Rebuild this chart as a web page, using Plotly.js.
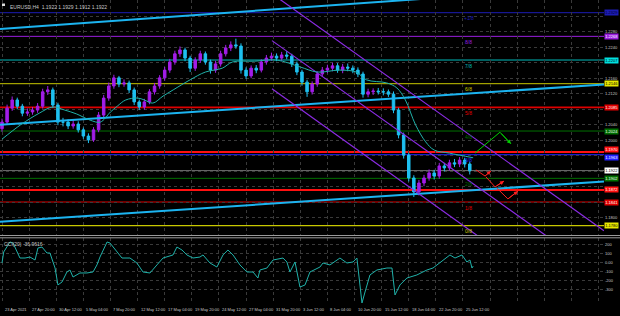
<!DOCTYPE html>
<html><head><meta charset="utf-8">
<script src="https://cdn.plot.ly/plotly-3.0.1.min.js"></script>
<style>html,body{margin:0;padding:0;background:#000;}#c{width:620px;height:316px;}</style>
</head><body><div id="c"></div>
<script>
// ---------- DATA ----------
const barIdx = [0,3,6,9,12,15,18,21,24,27,30,33,36,39,42,45,48,51,54,57,60,63,66,69,72,75,78,81,84,87,90,93,96,99,102,105,108,111,114,117,120,123,126,129,132,135,138,141,144,147,150,153,156,159,162,165,168,171,174,177,180,183,186,189,192,195,198,201,204,207,210,213,216,219,222,225,228,231,234,237,240,243,246,249,252,255,258,261,264,267,270,273,276];
const opens = [1.2030,1.2047,1.2083,1.2104,1.2088,1.2070,1.2073,1.2078,1.2088,1.2125,1.2130,1.2091,1.2047,1.2047,1.2037,1.2042,1.2027,1.2011,1.2001,1.2027,1.2065,1.2109,1.2140,1.2161,1.2145,1.2148,1.2130,1.2099,1.2086,1.2099,1.2125,1.2140,1.2161,1.2181,1.2202,1.2223,1.2233,1.2212,1.2186,1.2207,1.2223,1.2202,1.2181,1.2197,1.2223,1.2238,1.2246,1.2243,1.2181,1.2166,1.2186,1.2181,1.2202,1.2212,1.2217,1.2212,1.2220,1.2217,1.2197,1.2176,1.2150,1.2125,1.2145,1.2171,1.2181,1.2186,1.2192,1.2181,1.2189,1.2186,1.2181,1.2171,1.2119,1.2125,1.2127,1.2125,1.2125,1.2119,1.2078,1.2014,1.1962,1.1903,1.1867,1.1890,1.1903,1.1916,1.1908,1.1934,1.1929,1.1942,1.1939,1.1949,1.1939];
const highs = [1.2056,1.2092,1.2113,1.2110,1.2094,1.2082,1.2086,1.2096,1.2133,1.2140,1.2136,1.2097,1.2058,1.2054,1.2052,1.2049,1.2033,1.2018,1.2034,1.2073,1.2117,1.2149,1.2169,1.2166,1.2157,1.2154,1.2136,1.2105,1.2107,1.2132,1.2148,1.2168,1.2189,1.2210,1.2231,1.2242,1.2239,1.2218,1.2214,1.2231,1.2229,1.2208,1.2205,1.2231,1.2246,1.2255,1.2262,1.2250,1.2188,1.2193,1.2194,1.2209,1.2220,1.2226,1.2224,1.2228,1.2230,1.2223,1.2203,1.2182,1.2156,1.2152,1.2178,1.2189,1.2195,1.2200,1.2199,1.2197,1.2198,1.2193,1.2188,1.2177,1.2133,1.2134,1.2135,1.2134,1.2131,1.2126,1.2084,1.2020,1.1968,1.1910,1.1898,1.1911,1.1925,1.1924,1.1942,1.1942,1.1950,1.1952,1.1957,1.1955,1.1945];
const lows = [1.2022,1.2040,1.2076,1.2080,1.2062,1.2063,1.2066,1.2071,1.2082,1.2117,1.2084,1.2039,1.2036,1.2029,1.2030,1.2020,1.2004,1.1993,1.1996,1.2021,1.2058,1.2102,1.2133,1.2137,1.2138,1.2122,1.2091,1.2078,1.2079,1.2093,1.2118,1.2133,1.2154,1.2174,1.2195,1.2215,1.2204,1.2176,1.2179,1.2200,1.2195,1.2172,1.2174,1.2190,1.2216,1.2230,1.2236,1.2172,1.2158,1.2160,1.2173,1.2175,1.2195,1.2205,1.2204,1.2205,1.2209,1.2189,1.2168,1.2141,1.2112,1.2118,1.2138,1.2164,1.2173,1.2178,1.2174,1.2173,1.2178,1.2173,1.2163,1.2110,1.2111,1.2117,1.2118,1.2116,1.2112,1.2070,1.2005,1.1953,1.1894,1.1854,1.1858,1.1882,1.1896,1.1899,1.1901,1.1920,1.1922,1.1931,1.1931,1.1930,1.1912];
const closes = [1.2047,1.2083,1.2104,1.2088,1.2070,1.2073,1.2078,1.2088,1.2125,1.2130,1.2091,1.2047,1.2047,1.2037,1.2042,1.2027,1.2011,1.2001,1.2027,1.2065,1.2109,1.2140,1.2161,1.2145,1.2148,1.2130,1.2099,1.2086,1.2099,1.2125,1.2140,1.2161,1.2181,1.2202,1.2223,1.2233,1.2212,1.2186,1.2207,1.2223,1.2202,1.2181,1.2197,1.2223,1.2238,1.2246,1.2243,1.2181,1.2166,1.2186,1.2181,1.2202,1.2212,1.2217,1.2212,1.2220,1.2217,1.2197,1.2176,1.2150,1.2125,1.2145,1.2171,1.2181,1.2186,1.2192,1.2181,1.2189,1.2186,1.2181,1.2171,1.2119,1.2125,1.2127,1.2125,1.2125,1.2119,1.2078,1.2014,1.1962,1.1903,1.1867,1.1890,1.1903,1.1916,1.1908,1.1934,1.1929,1.1942,1.1939,1.1949,1.1939,1.1922];

const maX = [0,11,22,30,37,44,52,58,64,68,73,80,84,89,95,101,111,120,130,136,149,162,176,186,199,209,215,227,233,238,244,250,255,264,278];
const maY = [1.2003,1.2040,1.2070,1.2086,1.2078,1.2068,1.2052,1.2047,1.2073,1.2088,1.2104,1.2109,1.2104,1.2096,1.2114,1.2130,1.2156,1.2176,1.2186,1.2202,1.2204,1.2207,1.2189,1.2176,1.2181,1.2176,1.2156,1.2148,1.2135,1.2104,1.2040,1.1996,1.1975,1.1967,1.1955];

const cciX = [0,1,4.7,6.5,10.6,13.6,16.5,19.5,21.2,23.6,26.5,28.3,31.3,33,35.4,38.3,40.1,41.9,46,50.1,53.7,56,57.8,62,63.7,67.8,70.8,75.5,79.6,83.2,87.3,91.4,95,100.9,103.2,106.2,109.1,112.7,116.8,118.6,122.7,126.8,130.4,133.3,136.3,140.4,144.5,148.1,151,152.2,156.3,159.9,165.8,168.1,169.9,172.9,175.8,178.8,181.7,187.6,189.4,193.5,199.4,203.5,207.1,209.4,212.4,214.2,217.1,221.2,227.1,230.1,231.9,234.8,238.9,244.8,250.7,254.3,256.6,262.5,264.3,267.3,271.4,274.3,276.1,277.3,278];
const cciV = [-2,120,231,220,53,53,64,31,164,175,109,109,-58,-246,-213,-102,-80,-158,-113,-113,-102,-24,64,231,220,120,53,53,-2,-102,-113,-24,53,87,175,142,87,53,64,87,-2,-47,87,142,87,-24,-102,-102,-169,-80,-58,31,53,9,-102,9,-269,-246,-102,-47,-2,-24,53,-2,9,53,-446,-324,-135,-80,-58,-58,-357,-246,-169,-135,-80,-58,-24,53,87,53,87,9,31,-58,-37];

const xTickIdx = [0,16,32,48,64,80,96,112,128,144,160,176,192,208,224,240,256,272,288,304,320,336,352];
const xTickText = ["23 Apr 2021","27 Apr 20:00","30 Apr 12:00","5 May 04:00","7 May 20:00","12 May 12:00","17 May 04:00","19 May 20:00","24 May 12:00","27 May 04:00","31 May 20:00","3 Jun 12:00","8 Jun 04:00","10 Jun 20:00","15 Jun 12:00","18 Jun 04:00","22 Jun 20:00","25 Jun 12:00","","","","",""];
const priceTicks = [1.1800,1.1840,1.1880,1.1920,1.1960,1.2000,1.2040,1.2080,1.2120,1.2160,1.2200,1.2240,1.2280,1.2320,1.2360];
const priceTickText = ["1.1800","","","","","1.2000","1.2040","","1.2120","1.2160","","1.2240","1.2280","","1.2360"];
const cciTicks = [200,100,0,-100,-200,-300];
const cciTickText = ["200","100","0.00","-100","-200","-300"];

const murrayLevels = [1.2329,1.2268,1.2207,1.2146,1.2085,1.2024,1.1963,1.1902,1.1841,1.1780];
const murrayNames = ["+1/8","8/8","7/8","6/8","5/8","4/8","3/8","2/8","1/8","0/8"];
const srLevels = [1.1970,1.1872];
const bidPrice = 1.1922;

const lineX = [-1.18,355.2];
const cyanTop = [1.2287,1.2398];
const cyanMid = [1.2040,1.2144];
const cyanLow = [1.1790,1.1894];
const chX = [159.3,355.2];
const chUpper = [1.2378,1.1767];
const chMid = [1.2257,1.1648];
const chLow = [1.2133,1.1521];

const greenArrowX = [279.1,293.8,300.3];
const greenArrowY = [1.1967,1.2021,1.1991];
const redArrows = [
  {x:[279.6,285.0,288.5], y:[1.1924,1.1908,1.1921]},
  {x:[285.5,290.9,296.2], y:[1.1906,1.1880,1.1895]},
  {x:[292.0,298.5,304.4], y:[1.1877,1.1849,1.1869]}
];

// ---------- STYLE ----------
const murrayColors = ["#1c1cb4","#9a1ee0","#00bcbc","#c8c800","#e00000","#007000","#2020ff","#007000","#e00000","#c8c800"];
const murrayWidth = [1,1,1,1,1.6,1,1,1,1.2,1.2];
const gridC = "#3a3a3a";
const txtC = "#c8c8c8";

const traces = [];
[cyanTop,cyanMid,cyanLow].forEach(y=>traces.push({type:'scatter',mode:'lines',x:lineX,y:y,xaxis:'x',yaxis:'y',line:{color:'#1cb4f0',width:2},hoverinfo:'skip'}));
[chUpper,chMid,chLow].forEach(y=>traces.push({type:'scatter',mode:'lines',x:chX,y:y,xaxis:'x',yaxis:'y',line:{color:'#8a2be2',width:1.2},hoverinfo:'skip'}));
traces.push({type:'scatter',mode:'lines',x:maX,y:maY,xaxis:'x',yaxis:'y',line:{color:'#20b2aa',width:1,shape:'spline',smoothing:1},hoverinfo:'skip'});
traces.push({type:'candlestick',x:barIdx,open:opens,high:highs,low:lows,close:closes,xaxis:'x',yaxis:'y',
  increasing:{line:{color:'#a21ee8',width:1},fillcolor:'#a21ee8'},
  decreasing:{line:{color:'#1ec0f0',width:1},fillcolor:'#1ec0f0'},whiskerwidth:0,hoverinfo:'skip'});
traces.push({type:'scatter',mode:'lines',x:greenArrowX,y:greenArrowY,xaxis:'x',yaxis:'y',line:{color:'#00d000',width:1},hoverinfo:'skip'});
redArrows.forEach(a=>traces.push({type:'scatter',mode:'lines',x:a.x,y:a.y,xaxis:'x',yaxis:'y',line:{color:'#ff2020',width:1},hoverinfo:'skip'}));
traces.push({type:'scatter',mode:'lines',x:cciX,y:cciV,xaxis:'x',yaxis:'y2',line:{color:'#20b2aa',width:1},hoverinfo:'skip'});

const shapes = [];
murrayLevels.forEach((v,i)=>shapes.push({type:'line',xref:'paper',x0:0,x1:1,yref:'y',y0:v,y1:v,line:{color:murrayColors[i],width:murrayWidth[i]},layer:'below'}));
srLevels.forEach(v=>shapes.push({type:'line',xref:'paper',x0:0,x1:1,yref:'y',y0:v,y1:v,line:{color:'#ff1010',width:2},layer:'below'}));
shapes.push({type:'line',xref:'paper',x0:0,x1:1,yref:'y',y0:bidPrice,y1:bidPrice,line:{color:'#707070',width:1},layer:'below'});
shapes.push({type:'line',xref:'paper',x0:0,x1:1.03,yref:'paper',y0:(304-235.5)/304,y1:(304-235.5)/304,line:{color:'#9a9a9a',width:1}});
shapes.push({type:'line',xref:'paper',x0:0,x1:1.03,yref:'paper',y0:(304-237.8)/304,y1:(304-237.8)/304,line:{color:'#9a9a9a',width:1}});
shapes.push({type:'rect',xref:'paper',yref:'paper',x0:2/604,x1:5/604,y0:(304-3.5)/304,y1:(304-6)/304,fillcolor:'#dddddd',line:{width:0}});

const ann = [];
murrayLevels.forEach((v,i)=>ann.push({x:275.5,y:v,xref:'x',yref:'y',text:murrayNames[i],showarrow:false,yanchor:'top',yshift:-0.5,font:{size:5,color:murrayColors[i]}}));
ann.push({x:greenArrowX[2],y:greenArrowY[2],ax:greenArrowX[1],ay:greenArrowY[1],xref:'x',yref:'y',axref:'x',ayref:'y',showarrow:true,arrowhead:2,arrowsize:0.8,arrowwidth:1,arrowcolor:'#00d000',text:''});
redArrows.forEach(a=>ann.push({x:a.x[2],y:a.y[2],ax:a.x[1],ay:a.y[1],xref:'x',yref:'y',axref:'x',ayref:'y',showarrow:true,arrowhead:2,arrowsize:0.8,arrowwidth:1,arrowcolor:'#ff2020',text:''}));
const boxes = [
  [murrayLevels[0],'#1c1cb4','#000030',0],[murrayLevels[1],'#9a1ee0','#ffffff',0],[murrayLevels[2],'#00e0e0','#000000',0],
  [murrayLevels[3],'#e8e800','#000000',0],[murrayLevels[4],'#e00000','#ffffff',0],[murrayLevels[5],'#007000','#ffffff',0],
  [srLevels[0],'#ff1010','#ffffff',2.5],[murrayLevels[6],'#2020ff','#ffffff',-2.5],[bidPrice,'#ffffff','#000000',0],
  [murrayLevels[7],'#007000','#ffffff',0],[srLevels[1],'#ff1010','#ffffff',0],[murrayLevels[8],'#e00000','#ffffff',0],[murrayLevels[9],'#e8e800','#000000',0]
];
boxes.forEach(b=>ann.push({x:1,xref:'paper',xanchor:'left',xshift:0,y:b[0],yref:'y',yshift:b[3],text:b[0].toFixed(4),showarrow:false,bgcolor:b[1],borderpad:0.2,font:{size:4,color:b[2]}}));
xTickIdx.forEach((v,i)=>{ if(xTickText[i]) ann.push({x:v,xref:'x',y:0,yref:'paper',xanchor:'left',yanchor:'top',yshift:-1,xshift:1,text:xTickText[i],showarrow:false,font:{size:4,color:txtC}}); });
ann.push({x:0,y:1,xref:'paper',yref:'paper',xanchor:'left',yanchor:'top',xshift:8,yshift:-2,text:'EURUSD,H4  1.1922 1.1929 1.1912 1.1922',showarrow:false,font:{size:5,color:txtC}});
ann.push({x:0,y:(304-239)/304,xref:'paper',yref:'paper',xanchor:'left',yanchor:'top',xshift:2,text:'CCI(20) -36.9616',showarrow:false,font:{size:5,color:txtC}});

const layout = {
  width:620,height:316,margin:{l:0,r:16,t:0,b:12},
  paper_bgcolor:'#000000',plot_bgcolor:'#000000',showlegend:false,
  font:{family:'Liberation Sans, Arial, sans-serif',color:txtC},
  xaxis:{domain:[0,1],anchor:'y2',range:[-1.18,355.2],tickvals:xTickIdx,showticklabels:false,
    showgrid:true,gridcolor:gridC,griddash:'dot',gridwidth:1,zeroline:false,showline:false,ticks:'',rangeslider:{visible:false},fixedrange:true},
  yaxis:{domain:[(304-235)/304,1],range:[1.17560,1.23617],side:'right',tickvals:priceTicks,ticktext:priceTickText,
    tickfont:{size:4,color:txtC},showgrid:true,gridcolor:gridC,griddash:'dot',zeroline:false,showline:false,ticks:'',ticklabelstandoff:0,fixedrange:true},
  yaxis2:{domain:[0,(304-238)/304],range:[-457.3,275.3],side:'right',anchor:'x',tickvals:cciTicks,ticktext:cciTickText,
    tickfont:{size:4,color:txtC},showgrid:true,gridcolor:gridC,griddash:'dot',zeroline:false,showline:false,ticks:'',ticklabelstandoff:0,fixedrange:true},
  shapes:shapes,annotations:ann
};
Plotly.newPlot('c',traces,layout,{displayModeBar:false,staticPlot:true});
</script></body></html>
